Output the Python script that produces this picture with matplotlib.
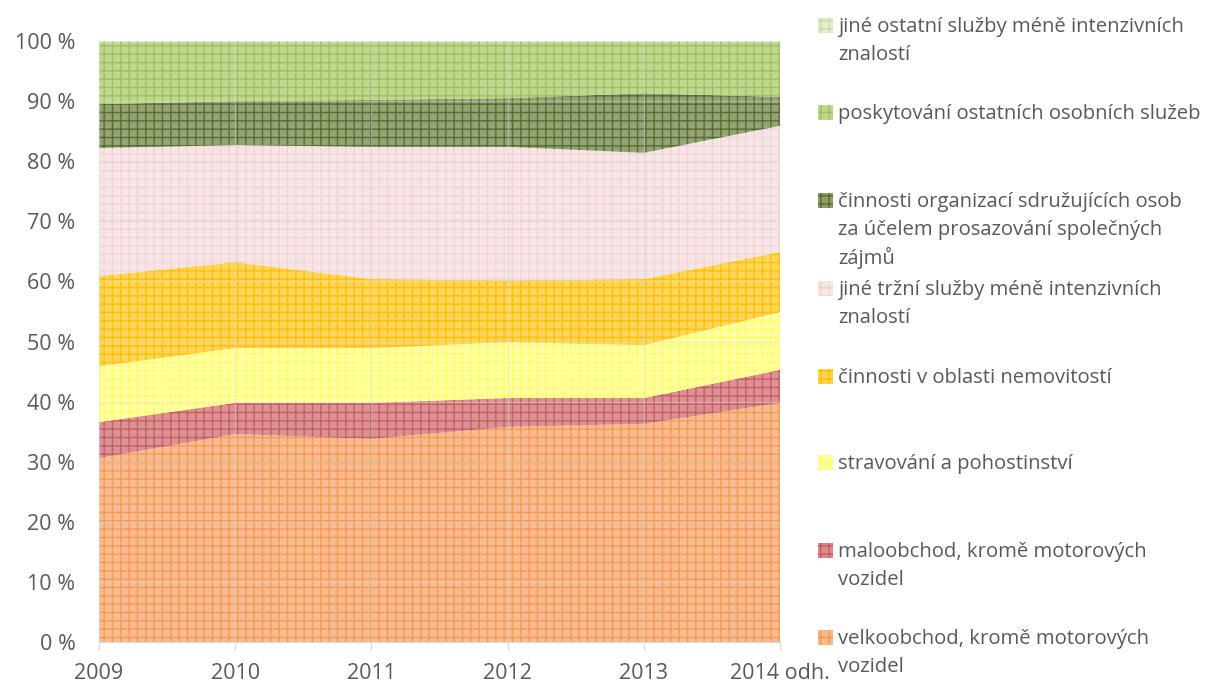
import matplotlib.pyplot as plt
from matplotlib.patches import Rectangle
import numpy as np

plt.rcParams['font.family'] = ['Open Sans', 'DejaVu Sans']
plt.rcParams['hatch.linewidth'] = 1.0

years = ['2009', '2010', '2011', '2012', '2013', '2014 odh.']

# shares in %, bottom to top
velkoobchod = [30.6, 34.6, 33.8, 35.8, 36.3, 39.8]
maloobchod = [6.0, 5.2, 6.0, 4.8, 4.3, 5.5]
stravovani = [9.3, 9.1, 9.1, 9.3, 8.8, 9.6]
nemovitosti = [15.0, 14.3, 11.5, 10.3, 11.0, 10.0]
jine_trzni = [21.3, 19.5, 22.0, 22.2, 21.0, 21.0]
cinnosti_org = [7.3, 7.3, 7.8, 8.1, 9.9, 4.8]
poskytovani = [10.3, 9.8, 9.6, 9.3, 8.5, 9.1]
jine_ostatni = [0.2, 0.2, 0.2, 0.2, 0.2, 0.2]

series = [velkoobchod, maloobchod, stravovani, nemovitosti,
          jine_trzni, cinnosti_org, poskytovani, jine_ostatni]
labels = ['velkoobchod, kromě motorových\nvozidel',
          'maloobchod, kromě motorových\nvozidel',
          'stravování a pohostinství',
          'činnosti v oblasti nemovitostí',
          'jiné tržní služby méně intenzivních\nznalostí',
          'činnosti organizací sdružujících osob\nza účelem prosazování společných\nzájmů',
          'poskytování ostatních osobních služeb',
          'jiné ostatní služby méně intenzivních\nznalostí']
face_colors = ['#F8B98C', '#D98C8F', '#FFFF9E', '#FFD452',
               '#F7E4E4', '#8C9E6C', '#BCD68C', '#E3EDD2']
hatch_colors = ['#F59A50', '#C55A5C', '#FFFF66', '#FFC000',
                '#F0D4D4', '#55692F', '#9FBF5E', '#C8DBA6']

fig = plt.figure(figsize=(12.11, 6.86), dpi=100)
ax = fig.add_axes([0.0818, 0.0641, 0.5624, 0.8761])

x = np.arange(len(years))
data = np.array(series)
data = data / data.sum(axis=0) * 100
bottom = np.zeros(len(years))
for vals, fc, hc in zip(data, face_colors, hatch_colors):
    ax.fill_between(x, bottom, bottom + vals, facecolor=fc, edgecolor=hc,
                    hatch='++', linewidth=0, alpha=0.95)
    bottom = bottom + vals

ax.set_xlim(0, len(years) - 1)
ax.set_ylim(0, 100)
ax.set_yticks(range(0, 101, 10))
ax.set_yticklabels([f'{v} %' for v in range(0, 101, 10)])
ax.set_xticks(x)
ax.set_xticklabels(years)
ax.grid(True, color='#D9D9D9', linewidth=1, alpha=0.4)
ax.set_axisbelow(False)
for s in ['top', 'right', 'left']:
    ax.spines[s].set_visible(False)
ax.spines['bottom'].set_color('#D9D9D9')
ax.tick_params(axis='y', length=0, labelsize=15.5, labelcolor='#595959', pad=17)
ax.tick_params(axis='x', length=6, color='#D9D9D9', labelsize=15.5,
               labelcolor='#595959', pad=9)

# legend, top to bottom
W, H = 1211, 686
y_first = [25, 112, 200, 288, 376, 462, 550, 637]
for i, yp in enumerate(y_first):
    k = len(series) - 1 - i
    fig.patches.append(Rectangle((818 / W, 1 - (yp + 8) / H), 15 / W, 15 / H,
                                 transform=fig.transFigure,
                                 facecolor=face_colors[k], edgecolor=hatch_colors[k],
                                 hatch='++', linewidth=0))
    for j, line in enumerate(labels[k].split('\n')):
        fig.text(838 / W, 1 - (yp + 2 + j * 28) / H, line, fontsize=14.6,
                 color='#595959', va='center', ha='left')

fig.savefig('out.png', dpi=100)
